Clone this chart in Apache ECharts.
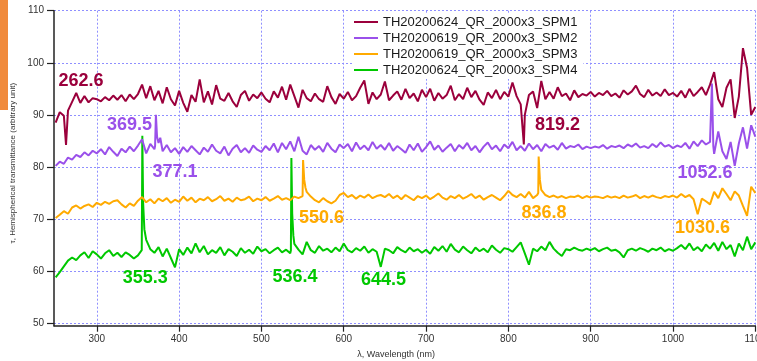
<!DOCTYPE html>
<html><head><meta charset="utf-8">
<script src="https://cdn.jsdelivr.net/npm/echarts@6/dist/echarts.min.js"></script>
<style>html,body{margin:0;padding:0;background:#fff}#c{width:757px;height:361px}</style>
</head><body><div id="c"></div>
<script>
const seriesNames = ['TH20200624_QR_2000x3_SPM1','TH20200619_QR_2000x3_SPM2','TH20200619_QR_2000x3_SPM3','TH20200624_QR_2000x3_SPM4'];
const seriesColors = ['#9b003c','#9a50ea','#ffaa00','#00c800'];

const wavelength = [
250,255,260,265,270,275,280,285,290,295,
300,305,310,315,320,325,330,335,340,345,
350,355,360,365,370,375,380,385,390,395,
400,405,410,415,420,425,430,435,440,445,
450,455,460,465,470,475,480,485,490,495,
500,505,510,515,520,525,530,535,540,545,
550,555,560,565,570,575,580,585,590,595,
600,605,610,615,620,625,630,635,640,645,
650,655,660,665,670,675,680,685,690,695,
700,705,710,715,720,725,730,735,740,745,
750,755,760,765,770,775,780,785,790,795,
800,805,810,815,820,825,830,835,840,845,
850,855,860,865,870,875,880,885,890,895,
900,905,910,915,920,925,930,935,940,945,
950,955,960,965,970,975,980,985,990,995,
1000,1005,1010,1015,1020,1025,1030,1035,1040,1045,
1050,1055,1060,1065,1070,1075,1080,1085,1090,1095,
1100];

const spm1 = [
88.5,90.5,89.8,90.8,92.5,94.2,92.3,93.6,92.4,93.2,
93.0,92.6,93.4,92.8,93.7,92.9,93.8,92.6,93.9,93.0,
94.0,95.8,93.2,95.5,92.8,94.6,92.2,95.3,93.0,91.8,
94.6,92.3,90.6,93.8,92.5,96.8,92.4,94.5,92.0,95.7,
93.1,92.7,94.2,92.6,91.5,93.8,94.6,92.7,93.9,93.2,
94.3,93.1,92.4,94.5,93.3,95.4,92.9,95.8,93.6,91.4,
94.8,93.2,92.6,94.1,93.0,92.5,95.5,93.4,92.1,94.0,
93.1,94.4,92.8,93.6,95.2,96.6,92.1,94.3,93.0,93.9,
96.4,92.8,93.7,94.5,92.9,95.0,93.2,94.1,92.6,94.8,
93.4,95.0,92.7,94.2,93.1,93.8,95.6,92.8,94.0,93.0,
95.2,93.4,94.6,92.9,91.9,94.3,93.2,94.8,93.0,94.4,
93.5,96.2,93.6,92.0,90.0,93.8,94.5,91.3,96.5,93.0,
94.4,93.1,95.3,93.6,94.1,92.8,94.7,93.4,94.0,93.7,
94.4,93.5,94.2,93.8,94.6,93.6,94.1,93.3,94.7,93.9,
94.5,95.6,94.0,93.4,94.8,93.7,94.3,93.6,94.9,93.8,
94.2,93.5,94.6,93.3,95.0,93.6,94.4,95.3,93.8,95.8,
98.2,93.0,91.5,95.2,96.8,89.4,93.5,102.8,99.0,90.0,
91.5];
const spm2 = [
80.2,81.0,80.6,81.8,81.4,82.3,81.9,82.8,82.2,83.1,
82.6,83.4,82.4,83.8,82.9,82.1,83.5,82.8,83.9,83.0,
84.1,85.3,82.6,84.4,83.4,84.6,83.0,84.2,82.8,83.6,
82.5,83.8,82.9,84.0,83.2,82.4,83.7,82.9,84.3,83.1,
82.6,83.9,82.2,83.5,84.2,82.8,83.6,82.7,84.1,83.3,
82.9,84.0,83.2,84.5,82.8,84.6,83.4,84.9,83.0,85.8,
83.1,82.4,84.2,83.3,84.0,82.9,84.6,83.5,82.8,84.3,
83.6,84.4,83.0,84.7,83.4,84.1,83.2,84.8,83.5,84.2,
83.3,84.6,83.1,84.0,83.4,82.7,84.3,83.2,84.5,82.9,
83.8,84.9,83.3,84.1,82.9,83.7,84.4,83.0,84.2,83.5,
84.6,83.2,84.0,82.8,83.9,84.7,83.4,84.1,83.0,84.3,
83.6,84.8,83.2,84.0,83.1,84.5,83.4,84.2,83.0,84.4,
83.7,84.1,83.3,84.6,83.5,84.0,83.8,84.3,83.4,83.9,
83.6,83.9,83.7,84.2,83.5,84.0,83.8,84.1,83.6,84.3,
83.9,84.5,83.7,84.0,83.6,84.4,83.8,84.7,83.9,84.2,
83.6,84.1,83.8,84.6,83.5,84.9,84.0,85.1,84.3,84.8,
82.5,86.8,83.0,81.5,84.8,80.2,84.5,87.6,83.5,88.0,
85.8];
const spm3 = [
70.2,70.8,71.5,71.0,72.2,72.6,72.0,72.5,72.8,72.3,
73.1,72.7,73.3,72.9,73.4,73.6,72.8,72.2,73.0,72.5,
73.5,74.2,73.2,73.8,73.0,73.9,73.4,74.0,73.1,73.7,
73.3,74.3,73.5,74.1,73.2,73.9,73.6,74.2,73.4,73.8,
74.4,73.5,73.9,73.3,74.1,73.6,73.8,74.3,73.4,73.9,
73.6,74.2,73.5,73.9,74.4,73.7,74.0,73.6,74.3,74.0,
74.4,75.2,74.3,73.6,73.2,74.0,73.4,73.0,73.5,74.6,
75.0,74.2,74.6,73.9,74.5,74.1,74.7,74.0,74.4,74.6,
74.2,74.8,74.0,74.5,73.8,74.6,74.1,73.6,74.4,74.0,
74.5,73.8,74.3,74.9,74.1,73.7,74.4,74.0,74.6,73.9,
74.3,74.8,74.0,74.5,73.7,74.2,74.6,74.1,73.6,74.4,
75.4,74.6,74.2,74.8,74.1,75.2,74.0,74.6,75.6,74.6,
74.2,74.5,74.1,74.4,74.0,74.3,74.2,74.5,74.0,74.4,
74.1,74.3,74.2,74.0,74.4,74.1,74.3,74.0,74.5,74.1,
74.3,74.6,74.0,74.4,74.1,74.5,74.2,74.0,74.4,74.2,
74.5,74.1,74.8,74.2,74.6,73.8,70.9,73.9,73.4,72.8,
75.2,74.0,75.9,74.8,73.6,75.3,74.5,72.5,70.6,76.2,
75.0];
const spm4 = [
58.8,59.8,60.9,62.0,62.6,62.1,63.0,63.6,62.5,63.8,
63.2,62.4,63.4,64.0,62.9,63.5,62.7,63.6,63.1,62.4,
63.0,75.0,66.0,64.2,63.5,64.6,62.8,64.3,62.5,60.7,
64.2,63.1,64.5,63.4,65.3,63.6,64.8,63.2,64.0,63.5,
64.6,63.0,64.2,63.7,62.9,64.4,63.5,64.1,63.3,64.7,
63.8,64.2,63.4,64.0,64.5,63.6,64.1,63.4,65.2,64.1,
63.2,65.6,64.0,63.5,64.8,63.9,64.3,63.6,64.5,63.8,
65.3,64.0,63.6,64.4,63.9,64.7,63.5,64.2,63.7,60.8,
64.3,64.0,63.4,64.6,64.0,63.6,64.5,63.8,64.2,63.5,
64.1,63.3,64.6,63.9,64.8,63.7,65.2,64.1,63.6,64.7,
64.0,63.4,64.5,63.8,64.3,63.6,64.9,64.1,63.5,64.4,
64.2,63.7,64.6,65.5,63.4,61.2,64.3,63.8,64.7,64.0,
65.6,64.3,63.5,62.9,64.2,64.0,64.5,64.1,63.9,64.3,
64.0,64.4,63.8,64.2,64.5,63.9,64.1,63.6,62.6,64.0,
64.3,63.9,64.4,64.1,63.7,64.3,64.0,64.5,63.8,64.2,
63.9,64.4,65.0,64.2,65.3,64.0,64.6,63.8,65.1,64.3,
65.4,63.9,65.6,64.2,65.0,62.8,65.3,64.0,66.6,64.2,
65.5];

// narrow features (peaks / dips) read between the 5 nm samples
const spm1PeakWl = [262.6, 818.8];
const spm1PeakVal = [84.2, 84.3];
const spm2PeakWl = [370.8, 371.8, 373.2, 377.1, 1046.5, 1047.3, 1049.0];
const spm2PeakVal = [84.0, 90.0, 85.8, 85.6, 85.0, 96.0, 84.0];
const spm3PeakWl = [550.6, 552.0, 553.5, 836.3, 836.8, 838.3];
const spm3PeakVal = [81.3, 77.5, 76.0, 75.0, 82.0, 77.5];
const spm4PeakWl = [354.6, 355.3, 356.3, 357.8, 535.8, 536.4, 537.4, 538.8];
const spm4PeakVal = [64.0, 86.0, 73.0, 68.0, 64.0, 81.7, 71.0, 66.8];

// annotations
const annoText = ['262.6','369.5','377.1','819.2','1052.6','550.6','836.8','1030.6','355.3','536.4','644.5'];
const annoWl   = [280.8, 339.7, 395.0, 859.7, 1038.9, 573.0, 843.3, 1035.9, 358.9, 540.8, 648.3];
const annoVal  = [96.4, 88.1, 79.1, 88.1, 78.75, 70.15, 71.1, 68.2, 58.6, 58.8, 58.3];
const annoSeries = [0,1,1,0,1,2,2,2,3,3,3];

const xTicks = [300,400,500,600,700,800,900,1000,1100];
const yTicks = [50,60,70,80,90,100,110];

function build(vals, pw, pv) {
  const pts = wavelength.map((w,i)=>[w, vals[i]]);
  pw.forEach((w,i)=>pts.push([w, pv[i]]));
  pts.sort((a,b)=>a[0]-b[0]);
  return pts;
}
const allVals = [spm1, spm2, spm3, spm4];
const allPw = [spm1PeakWl, spm2PeakWl, spm3PeakWl, spm4PeakWl];
const allPv = [spm1PeakVal, spm2PeakVal, spm3PeakVal, spm4PeakVal];

const FONT = "'Liberation Sans', Arial, sans-serif";
const gridLine = {show:true, lineStyle:{color:'#8f8fff', type:[2,2], width:1}};

const chart = echarts.init(document.getElementById('c'), null, {renderer:'canvas'});
const series = seriesNames.map((n,k)=>({
  name:n, type:'line', symbol:'none', showSymbol:false, data: build(allVals[k], allPw[k], allPv[k]),
  lineStyle:{width:2, color:seriesColors[k]}, itemStyle:{color:seriesColors[k]},
  z: 2 + (3-k)*0.01, animation:false
}));
series.push({
  type:'scatter', symbolSize:0, silent:true, z:6,
  data: annoWl.map((w,i)=>({value:[w, annoVal[i]], label:{color:seriesColors[annoSeries[i]]}})),
  label:{show:true, position:[0,0], align:'center', verticalAlign:'middle', formatter:p=>annoText[p.dataIndex],
         fontSize:18, fontWeight:'bold', fontFamily:FONT, textBorderWidth:0, opacity:1},
  itemStyle:{color:'transparent'}
});

chart.setOption({
  animation:false,
  backgroundColor:'#fff',
  grid:{left:54, right:1.7, top:10.7, bottom:35.3, containLabel:false, outerBoundsMode:'none'},
  graphic:[
    {type:'rect', left:0, top:0, shape:{width:8, height:110}, style:{fill:'#f08a3c'}, z:10}
  ],
  legend:{
    data:seriesNames, orient:'vertical', left:352, top:13, itemWidth:24, itemHeight:2, itemGap:2,
    icon:'rect',
    backgroundColor:'#fff', padding:[2,6,2,2],
    textStyle:{fontSize:13, color:'#1a1a1a', fontFamily:FONT, lineHeight:14}
  },
  xAxis:{
    type:'value', min:248, max:1100,
    name:'λ, Wavelength (nm)', nameLocation:'middle', nameGap:23,
    nameTextStyle:{fontSize:9, color:'#333', fontFamily:FONT, padding:[0,17,0,0]},
    axisLine:{show:true, onZero:false, lineStyle:{color:'#222', width:1.5}},
    axisTick:{show:true, length:6, customValues:xTicks, lineStyle:{color:'#222', width:1.2}},
    axisLabel:{customValues:xTicks, fontSize:10, color:'#333', margin:9, fontFamily:FONT, formatter:v=>String(v)},
    splitLine:gridLine
  },
  yAxis:{
    type:'value', min:49.5, max:110,
    name:'τ, Hemispherical transmittance (arbitrary unit)', nameLocation:'middle', nameGap:35,
    nameTextStyle:{fontSize:8, color:'#333', fontFamily:FONT, padding:[0,0,0,10]},
    axisLine:{show:true, onZero:false, lineStyle:{color:'#222', width:1.5}},
    axisTick:{show:true, length:7, customValues:yTicks, lineStyle:{color:'#222', width:1.2}},
    axisLabel:{customValues:yTicks, fontSize:10, color:'#333', margin:10, fontFamily:FONT, formatter:v=>String(v)},
    splitLine:gridLine
  },
  series: series
});
</script></body></html>
